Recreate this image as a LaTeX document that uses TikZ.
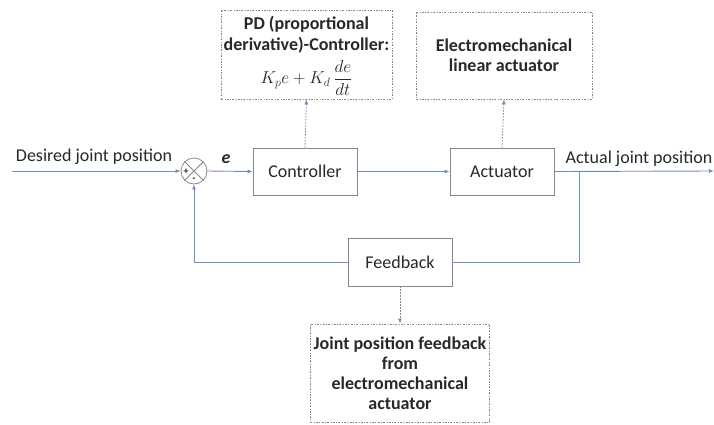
\documentclass[tikz,border=0pt]{standalone}
\usepackage{fontspec}
\setmainfont{Carlito}
\usetikzlibrary{arrows.meta}
\definecolor{linecol}{RGB}{112,142,186}
\definecolor{boxcol}{RGB}{135,135,135}
\definecolor{textcol}{RGB}{40,40,40}
\tikzset{
	block/.style={draw=boxcol, line width=0.9pt, minimum width=104pt, minimum height=47pt, text=textcol, font=\fontsize{18}{20}\selectfont},
	notebox/.style={draw=boxcol, line width=0.8pt, dash pattern=on 2pt off 1.5pt on 0.6pt off 1.5pt, text=textcol, font=\bfseries\fontsize{18}{20}\selectfont, align=center},
	sig/.style={draw=linecol, line width=0.9pt},
	sigarrow/.style={sig, -{Latex[length=5pt,width=4pt]}},
	dotarrow/.style={draw=boxcol, line width=0.8pt, dash pattern=on 1.5pt off 1.5pt, -{Latex[length=5pt,width=4pt,fill=linecol,color=linecol]}},
	lbl/.style={text=textcol, font=\fontsize{18}{20}\selectfont, inner sep=0pt}
}

\begin{document}
\begin{tikzpicture}[x=1pt, y=-1pt]
		%%%%% START %%%%%
		\useasboundingbox (0,0) rectangle (714,424);
		
		% blocks on the main path
		\node[circle, draw=boxcol, line width=0.8pt, minimum size=26pt, inner sep=0pt] (sum) at (194,171) {};
		\draw[boxcol, line width=0.8pt] (sum.north east) -- (sum.south west);
		\draw[boxcol, line width=0.8pt] (sum.north west) -- (sum.south east);
		\node[text=textcol, font=\bfseries\fontsize{10}{10}\selectfont, inner sep=0pt] (plus) at (186,171.5) {+};
		\node[text=textcol, font=\bfseries\fontsize{10}{10}\selectfont, inner sep=0pt] (minus) at (194,179.5) {-};
		
		\node[block] (ctrl) at (305,171.5) {Controller};
		\node[block] (act) at (502,171.5) {Actuator};
		\node[block, minimum height=48pt] (fb) at (400,262) {Feedback};
		
		% dotted note boxes
		\node[notebox, minimum width=171pt, minimum height=89pt] (pd) at (306.5,54.5) {};
		\node[lbl, font=\bfseries\fontsize{18}{20}\selectfont] (pdtxt) at (306.5,24) {PD (proportional};
		\node[lbl, font=\bfseries\fontsize{18}{20}\selectfont] (pdtxt2) at (306.5,45.5) {derivative)-Controller:};
		\node[lbl, font=\fontsize{17}{20}\selectfont] (pdlaw) at (306.5,78) {$K_p e + K_d\,\displaystyle\frac{de}{dt}$};
		
		\node[notebox, minimum width=176pt, minimum height=87pt] (em) at (504,55.5) {Electromechanical\\linear actuator};
		\node[notebox, minimum width=178pt, minimum height=98pt] (jp) at (400,373) {Joint position feedback\\from\\electromechanical\\actuator};
		
		% signal lines
		\coordinate (in) at (12,171);
		\coordinate (out) at (714,171);
		\coordinate (branch) at (579,171);
		\draw[sigarrow] (in) -- (sum.west);
		\draw[sigarrow] (sum.east) -- (ctrl.west);
		\draw[sigarrow] (ctrl.east) -- (act.west);
		\draw[sigarrow] (act.east) -- (out);
		\draw[sig] (branch) |- (fb.east);
		\draw[sigarrow] (fb.west) -| (sum.south);
		
		% dotted links to the notes
		\draw[dotarrow] (ctrl.north) -- (pd.south);
		\draw[dotarrow] (act.north) -- (em.south);
		\draw[dotarrow] (fb.south) -- (jp.north);
		
		% labels
		\node[lbl] (desired) at (94,157) {Desired joint position};
		\node[lbl] (actual) at (639,159) {Actual joint position};
		\node[lbl, font=\bfseries\itshape\fontsize{18}{20}\selectfont] (err) at (226,159) {e};
		
		%%%%% END %%%%%
	\end{tikzpicture}
\end{document}
